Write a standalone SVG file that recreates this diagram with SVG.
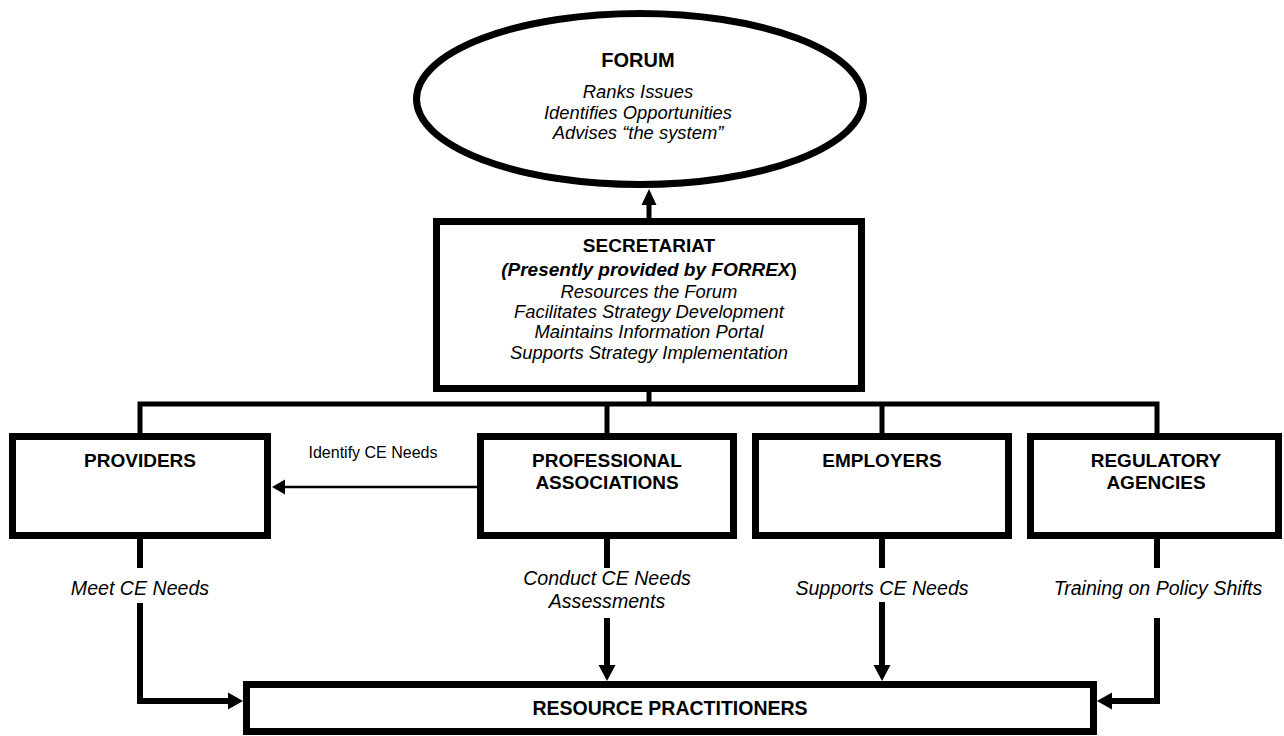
<svg xmlns="http://www.w3.org/2000/svg" width="1284" height="736" viewBox="0 0 1284 736">
<style>
.box{fill:#fff;stroke:#000;stroke-width:7}
.t{font-family:"Liberation Sans",Arial,sans-serif;fill:#000;text-anchor:middle}
.b{font-weight:bold;font-size:19px}
.i{font-style:italic;font-size:18.4px}
.l{font-style:italic;font-size:19.6px}
.r{font-size:16px}
.c{stroke:#000;fill:none}
.h{fill:#000;stroke:none}
</style>
<rect width="1284" height="736" fill="#fff"/>
<g id="connectors">
  <line class="c" x1="649" y1="218" x2="649" y2="200" stroke-width="5"/>
  <polygon class="h" points="649,189 641.5,205 656.5,205"/>
  <line class="c" x1="649" y1="392" x2="649" y2="404" stroke-width="5"/>
  <polyline class="c" points="140,433 140,404 1157,404 1157,433" stroke-width="5"/>
  <line class="c" x1="607" y1="404" x2="607" y2="433" stroke-width="5"/>
  <line class="c" x1="882" y1="404" x2="882" y2="433" stroke-width="5"/>
  <line class="c" x1="477" y1="487" x2="283" y2="487" stroke-width="2.5"/>
  <polygon class="h" points="272,487 285,479.5 285,494.5"/>
  <line class="c" x1="140" y1="539" x2="140" y2="568" stroke-width="6"/>
  <line class="c" x1="607" y1="539" x2="607" y2="568" stroke-width="6"/>
  <line class="c" x1="882" y1="539" x2="882" y2="568" stroke-width="6"/>
  <line class="c" x1="1157" y1="539" x2="1157" y2="568" stroke-width="6"/>
  <polyline class="c" points="140,603 140,701 229,701" stroke-width="6"/>
  <polygon class="h" points="243,701 228,692.5 228,709.5"/>
  <polyline class="c" points="1157,618 1157,701 1111,701" stroke-width="6"/>
  <polygon class="h" points="1097,701 1112,692.5 1112,709.5"/>
  <line class="c" x1="607" y1="618" x2="607" y2="667" stroke-width="6"/>
  <polygon class="h" points="607,681 598.5,665 615.5,665"/>
  <line class="c" x1="882" y1="602" x2="882" y2="667" stroke-width="6"/>
  <polygon class="h" points="882,681 873.5,665 890.5,665"/>
  <text class="t r" x="373" y="458">Identify CE Needs</text>
  <text class="t l" x="140" y="595">Meet CE Needs</text>
  <text class="t l" x="607" y="585">Conduct CE Needs</text>
  <text class="t l" x="607" y="608">Assessments</text>
  <text class="t l" x="882" y="595">Supports CE Needs</text>
  <text class="t l" x="1158" y="595">Training on Policy Shifts</text>
</g>
<g id="forum">
  <ellipse cx="640" cy="99" rx="223.5" ry="85.5" fill="#fff" stroke="#000" stroke-width="7"/>
  <text class="t b" x="638" y="67" style="font-size:20px">FORUM</text>
  <text class="t i" x="638" y="98">Ranks Issues</text>
  <text class="t i" x="638" y="119">Identifies Opportunities</text>
  <text class="t i" x="638" y="139">Advises “the system”</text>
</g>
<g id="secretariat">
  <rect class="box" x="436.5" y="221.5" width="425" height="167"/>
  <text class="t b" x="649" y="252">SECRETARIAT</text>
  <text class="t b" x="649" y="276"><tspan font-style="italic">(Presently provided by FORREX</tspan>)</text>
  <text class="t i" x="649" y="298">Resources the Forum</text>
  <text class="t i" x="649" y="318">Facilitates Strategy Development</text>
  <text class="t i" x="649" y="338">Maintains Information Portal</text>
  <text class="t i" x="649" y="359">Supports Strategy Implementation</text>
</g>
<g id="providers">
  <rect class="box" x="12.5" y="436.5" width="255" height="99"/>
  <text class="t b" x="140" y="467">PROVIDERS</text>
</g>
<g id="professional">
  <rect class="box" x="480.5" y="436.5" width="253" height="99"/>
  <text class="t b" x="607" y="467">PROFESSIONAL</text>
  <text class="t b" x="607" y="489">ASSOCIATIONS</text>
</g>
<g id="employers">
  <rect class="box" x="755.5" y="436.5" width="253" height="99"/>
  <text class="t b" x="882" y="467">EMPLOYERS</text>
</g>
<g id="regulatory">
  <rect class="box" x="1030.5" y="436.5" width="248" height="99"/>
  <text class="t b" x="1156" y="467">REGULATORY</text>
  <text class="t b" x="1156" y="489">AGENCIES</text>
</g>
<g id="practitioners">
  <rect class="box" x="246.5" y="684.5" width="847" height="47"/>
  <text class="t b" x="670" y="715" style="font-size:19.5px">RESOURCE PRACTITIONERS</text>
</g>
</svg>
